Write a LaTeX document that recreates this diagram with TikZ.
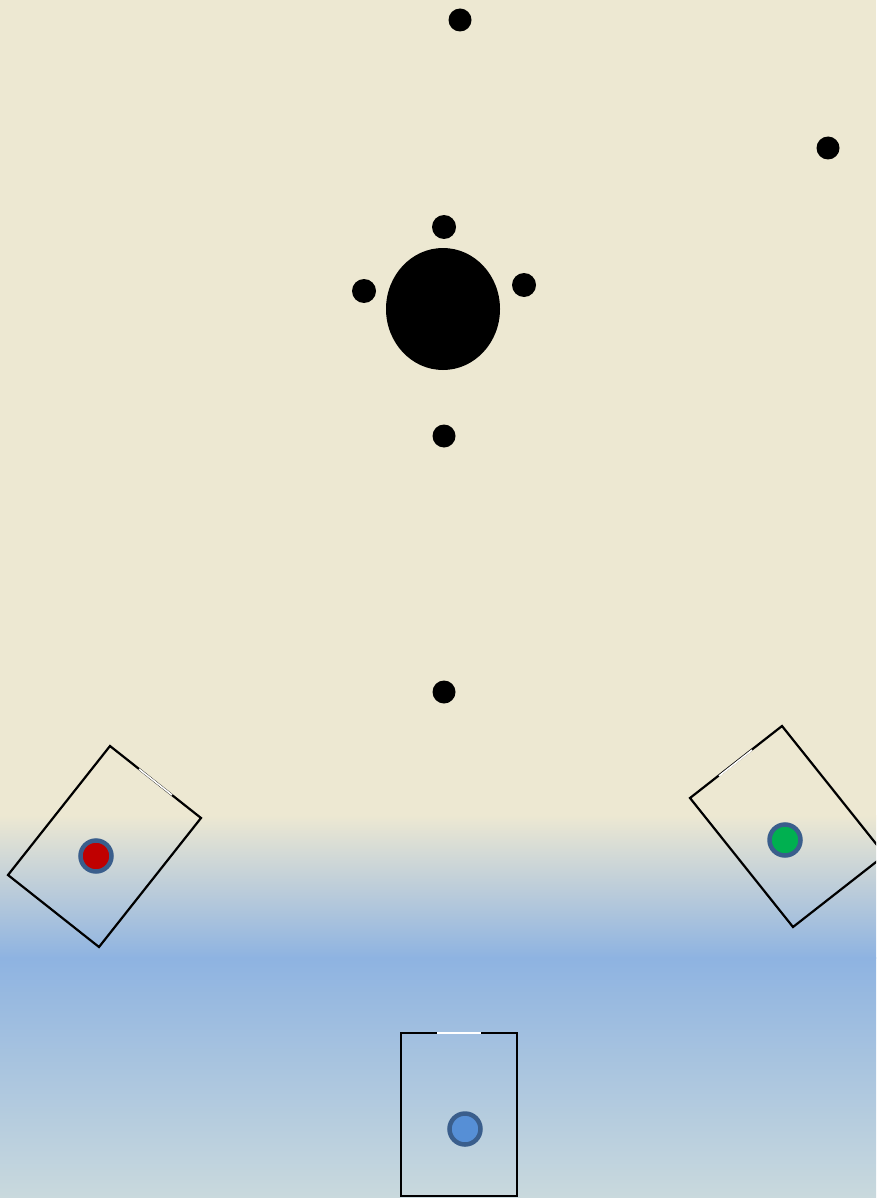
\documentclass[tikz,border=0pt]{standalone}
\usetikzlibrary{shapes.geometric}
\definecolor{beige}{RGB}{237,232,210}
\definecolor{skyb}{RGB}{142,179,225}
\definecolor{paleb}{RGB}{201,217,221}
\definecolor{ringc}{RGB}{58,94,140}
\definecolor{redc}{RGB}{192,0,0}
\definecolor{greenc}{RGB}{0,176,80}
\definecolor{bluec}{RGB}{86,143,214}
\tikzset{
  dot/.style={circle,fill=black,inner sep=0pt,minimum size=23pt},
  station/.style={draw=black,line width=2.2pt,line join=miter},
  gap/.style={draw=white,line width=1.6pt},
  marker/.style={circle,draw=ringc,line width=4.5pt,inner sep=0pt,minimum size=31pt}
}
\begin{document}
\begin{tikzpicture}[x=1pt,y=-1pt]
\useasboundingbox (0,0) rectangle (876,1198);
\begin{scope}
\clip (0,0) rectangle (876,1198);
% background
\fill[beige] (0,0) rectangle (876,816);
\shade[top color=beige,bottom color=skyb] (0,815) rectangle (876,958);
\shade[top color=skyb,bottom color=paleb] (0,957) rectangle (876,1198);
% dots
\node[dot] (d1) at (460,20) {};
\node[dot] (d2) at (828,148) {};
\node[dot,minimum size=24pt] (d3) at (444,227) {};
\node[dot,minimum size=24pt] (d4) at (364,291) {};
\node[dot,minimum size=24pt] (d5) at (524,285) {};
\node[dot] (d6) at (444,436) {};
\node[dot] (d7) at (444,692) {};
\node[ellipse,fill=black,inner sep=0pt,minimum width=114pt,minimum height=122pt] (big) at (443,309) {};
% left station
\draw[station] (110,746) -- (201,818) -- (99,947) -- (8,875) -- cycle;
\draw[gap] (139,769) -- (172,795);
\node[marker,fill=redc] (mr) at (96,856) {};
% right station
\draw[station] (782,726) -- (885,855) -- (793,927) -- (690,798) -- cycle;
\draw[gap] (719,776) -- (752,750);
\node[marker,fill=greenc] (mg) at (785,840) {};
% bottom station
\draw[station] (401,1033) rectangle (517,1196);
\draw[gap] (437,1033) -- (481,1033);
\node[marker,fill=bluec] (mb) at (465,1129) {};
\end{scope}
\end{tikzpicture}
\end{document}
